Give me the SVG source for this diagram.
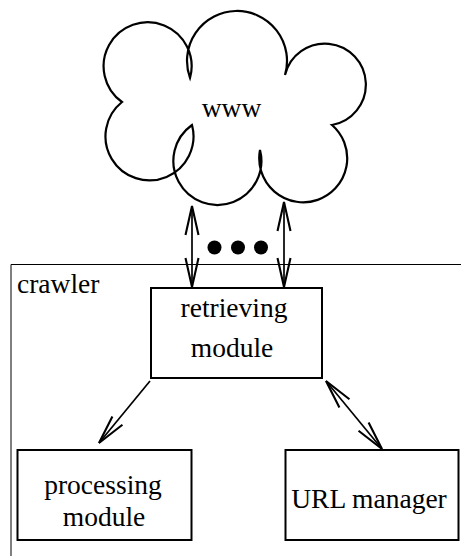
<svg xmlns="http://www.w3.org/2000/svg" width="461" height="556" viewBox="0 0 461 556">
<style>
  .t { font-family: "Liberation Serif", "Times New Roman", serif; font-size: 27.5px; fill: #000; }
  .box { fill: #fff; stroke: #000; stroke-width: 2; }
  .ln { stroke: #000; stroke-width: 1.7; fill: none; }
  .cloud { fill: #fff; stroke: #000; stroke-width: 2.2; stroke-linejoin: miter; }
</style>
<defs>
  <marker id="arr" viewBox="-32 -10 34 20" markerWidth="34" markerHeight="20" refX="0" refY="0" orient="auto-start-reverse" markerUnits="userSpaceOnUse">
    <path d="M -29,-6.5 L 0,0 L -29,6.5" fill="none" stroke="#000" stroke-width="2.1"/>
  </marker>
</defs>
<rect width="461" height="556" fill="#fff"/>

<g id="crawler">
  <path d="M 11,556 L 11,264.5 L 461,264.5" fill="none" stroke="#000" stroke-width="1"/>
  <text class="t" x="17" y="293">crawler</text>
</g>

<g id="www">
  <path class="cloud" d="M 190,78 A 50,50 0 1 1 285,75 A 41,41 0 1 1 332,125 A 44,44 0 1 1 260,150 A 44,44 0 1 1 192,125 A 44,44 0 1 1 122,102 A 44,44 0 1 1 190,78 Z"/>
  <text class="t" x="231.5" y="117" text-anchor="middle">www</text>
</g>

<g id="retrieving">
  <rect class="box" x="151" y="288" width="171" height="90"/>
  <text class="t" x="234" y="317" text-anchor="middle">retrieving</text>
  <text class="t" x="232" y="357" text-anchor="middle">module</text>
</g>

<g id="processing">
  <rect class="box" x="17.5" y="450" width="174" height="90"/>
  <text class="t" x="103" y="494" text-anchor="middle">processing</text>
  <text class="t" x="104" y="526" text-anchor="middle">module</text>
</g>

<g id="urlmanager">
  <rect class="box" x="285.5" y="450" width="173" height="90"/>
  <text class="t" x="369" y="508" text-anchor="middle">URL manager</text>
</g>

<g id="connectors">
  <line class="ln" x1="192" y1="206" x2="192" y2="287" marker-start="url(#arr)" marker-end="url(#arr)"/>
  <line class="ln" x1="284" y1="202" x2="284" y2="287" marker-start="url(#arr)" marker-end="url(#arr)"/>
  <circle cx="214.5" cy="247.5" r="7"/>
  <circle cx="238" cy="247.5" r="7"/>
  <circle cx="261" cy="247.5" r="7"/>
  <line class="ln" x1="150" y1="381" x2="99" y2="443" marker-end="url(#arr)"/>
  <line class="ln" x1="326" y1="381" x2="382" y2="449" marker-start="url(#arr)" marker-end="url(#arr)"/>
</g>
</svg>
